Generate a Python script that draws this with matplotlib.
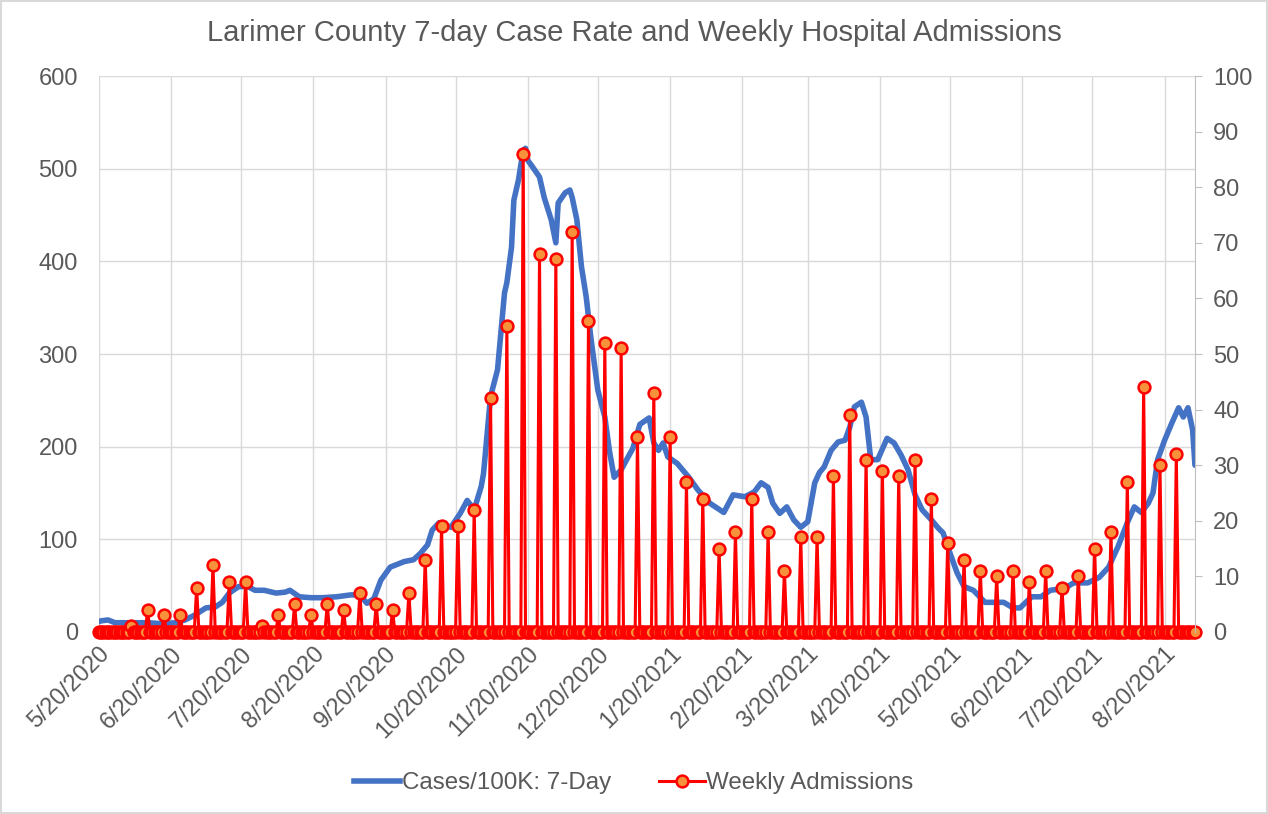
import pandas as pd
import matplotlib
matplotlib.use('Agg')
import matplotlib.pyplot as plt
import matplotlib.dates as mdates
from matplotlib.ticker import FuncFormatter, MultipleLocator
from matplotlib.lines import Line2D
from matplotlib.patches import Rectangle

plt.rcParams['font.family'] = ['Liberation Sans', 'DejaVu Sans']

# 7-day case rate per 100K
case_dates = [
    '2020-05-20', '2020-05-21', '2020-05-24', '2020-05-27', '2020-06-02', '2020-06-10',
    '2020-06-16', '2020-06-22', '2020-06-26', '2020-06-30', '2020-07-05', '2020-07-09',
    '2020-07-12', '2020-07-15', '2020-07-19', '2020-07-23', '2020-07-26', '2020-07-30',
    '2020-08-04', '2020-08-08', '2020-08-10', '2020-08-14', '2020-08-19', '2020-08-24',
    '2020-08-30', '2020-09-05', '2020-09-09', '2020-09-12', '2020-09-15', '2020-09-18',
    '2020-09-22', '2020-09-28', '2020-10-02', '2020-10-05', '2020-10-08', '2020-10-10',
    '2020-10-13', '2020-10-18', '2020-10-22', '2020-10-25', '2020-10-28', '2020-10-31',
    '2020-11-01', '2020-11-04', '2020-11-07', '2020-11-10', '2020-11-11', '2020-11-13',
    '2020-11-14', '2020-11-16', '2020-11-18', '2020-11-19', '2020-11-20', '2020-11-22',
    '2020-11-25', '2020-11-27', '2020-11-30', '2020-12-02', '2020-12-03', '2020-12-06',
    '2020-12-08', '2020-12-09', '2020-12-11', '2020-12-13', '2020-12-15', '2020-12-17',
    '2020-12-20', '2020-12-23', '2020-12-25', '2020-12-27', '2020-12-30', '2021-01-02',
    '2021-01-04', '2021-01-07', '2021-01-11', '2021-01-13', '2021-01-15', '2021-01-17',
    '2021-01-19', '2021-01-23', '2021-01-28', '2021-02-01', '2021-02-06', '2021-02-12',
    '2021-02-16', '2021-02-21', '2021-02-25', '2021-02-28', '2021-03-03', '2021-03-05',
    '2021-03-08', '2021-03-11', '2021-03-14', '2021-03-17', '2021-03-20', '2021-03-23',
    '2021-03-25', '2021-03-27', '2021-03-30', '2021-04-02', '2021-04-05', '2021-04-07',
    '2021-04-09', '2021-04-12', '2021-04-14', '2021-04-16', '2021-04-19', '2021-04-23',
    '2021-04-26', '2021-04-29', '2021-05-02', '2021-05-05', '2021-05-08', '2021-05-12',
    '2021-05-15', '2021-05-17', '2021-05-20', '2021-05-23', '2021-05-26', '2021-05-30',
    '2021-06-04', '2021-06-08', '2021-06-12', '2021-06-16', '2021-06-19', '2021-06-24',
    '2021-06-28', '2021-07-02', '2021-07-08', '2021-07-12', '2021-07-18', '2021-07-23',
    '2021-07-27', '2021-07-31', '2021-08-04', '2021-08-07', '2021-08-10', '2021-08-13',
    '2021-08-15', '2021-08-17', '2021-08-20', '2021-08-23', '2021-08-26', '2021-08-28',
    '2021-08-30', '2021-09-01', '2021-09-02',
]
case_rate = [
    11, 12, 13, 10, 10, 10,
    9, 10, 13, 18, 26, 27,
    32, 42, 49, 49, 45, 45,
    42, 43, 45, 38, 37, 37,
    38, 40, 40, 31, 36, 56,
    70, 76, 78, 85, 94, 110,
    118, 113, 128, 142, 132, 157,
    171, 254, 283, 366, 377, 415,
    466, 488, 520, 522, 509, 502,
    491, 469, 445, 420, 463, 474,
    477, 469, 445, 394, 362, 318,
    261, 232, 195, 167, 175, 189,
    198, 224, 231, 204, 196, 204,
    189, 182, 167, 153, 139, 129,
    148, 146, 151, 161, 156, 139,
    128, 135, 121, 113, 119, 161,
    172, 178, 196, 205, 207, 221,
    243, 248, 232, 186, 186, 209,
    204, 191, 175, 148, 132, 121,
    112, 107, 85, 64, 49, 45,
    32, 32, 32, 26, 26, 38,
    38, 45, 47, 53, 53, 59,
    70, 92, 118, 135, 129, 139,
    150, 186, 207, 225, 242, 232,
    242, 218, 180,
]

# weekly hospital admissions (one report per week, zero on the other days)
adm_first = '2020-06-03'
adm_weekly = [1, 4, 3, 3, 8, 12, 9, 9, 1, 3,
              5, 3, 5, 4, 7, 5, 4, 7, 13, 19,
              19, 22, 42, 55, 86, 68, 67, 72, 56, 52,
              51, 35, 43, 35, 27, 24, 15, 18, 24, 18,
              11, 17, 17, 28, 39, 31, 29, 28, 31, 24,
              16, 13, 11, 10, 11, 9, 11, 8, 10, 15,
              18, 27, 44, 30, 32]
day_start, day_end = '2020-05-20', '2021-09-02'

days = pd.date_range(day_start, day_end, freq='D')
adm = pd.Series(0, index=days)
adm[pd.date_range(adm_first, periods=len(adm_weekly), freq='7D')] = adm_weekly

grey = '#595959'
blue = '#4472C4'
orange = '#F7923A'

fig = plt.figure(figsize=(12.68, 8.14), dpi=100)
ax = fig.add_axes([0.0778, 0.2236, 0.8646, 0.683])
ax.plot(pd.to_datetime(case_dates), case_rate, color=blue, lw=4,
        solid_joinstyle='round', solid_capstyle='round')

ax2 = ax.twinx()
ax2.plot(adm.index, adm.values, color='red', lw=2.2, marker='o', ms=8.5,
         mfc=orange, mec='red', mew=1.8, clip_on=False)

ax.set_xlim(days[0], days[-1])
ax.set_ylim(0, 600)
ax2.set_ylim(0, 100)
ax.yaxis.set_major_locator(MultipleLocator(100))
ax2.yaxis.set_major_locator(MultipleLocator(10))


def fmt_date(v, pos):
    d = mdates.num2date(v)
    return f'{d.month}/{d.day}/{d.year}'


ax.xaxis.set_major_locator(mdates.MonthLocator(bymonthday=20))
ax.xaxis.set_major_formatter(FuncFormatter(fmt_date))
ax.grid(True, color='#D9D9D9', lw=1)
ax.set_axisbelow(True)

for s in ax.spines.values():
    s.set_visible(False)
for s in ['top', 'left', 'bottom']:
    ax2.spines[s].set_visible(False)
ax2.spines['right'].set_color('#BFBFBF')

ax.tick_params(axis='y', length=0, pad=15, labelsize=17, labelcolor=grey)
ax.tick_params(axis='x', length=0, pad=8, labelsize=17, labelcolor=grey)
ax2.tick_params(axis='y', length=5, color='#BFBFBF', pad=8, labelsize=17, labelcolor=grey)
for lab in ax.get_xticklabels():
    lab.set_rotation(45)
    lab.set_ha('right')
    lab.set_va('top')
    lab.set_rotation_mode('anchor')

fig.text(0.5, 1 - 33 / 814, 'Larimer County 7-day Case Rate and Weekly Hospital Admissions',
         ha='center', va='center', fontsize=21, color=grey)

handles = [Line2D([], [], color=blue, lw=4),
           Line2D([], [], color='red', lw=2.2, marker='o', ms=8.5, mfc=orange, mec='red', mew=1.8)]
leg = fig.legend(handles, ['Cases/100K: 7-Day', 'Weekly Admissions'], loc='center',
                 bbox_to_anchor=(0.5, 1 - 783 / 814), ncol=2, frameon=False, fontsize=17.4,
                 handlelength=1.9, handletextpad=0.05, columnspacing=2.0)
for t in leg.get_texts():
    t.set_color(grey)

fig.patches.append(Rectangle((0.001, 0.001), 0.998, 0.998, transform=fig.transFigure,
                             fill=False, ec='#D9D9D9', lw=1.5))

fig.savefig('out.png', dpi=100)
